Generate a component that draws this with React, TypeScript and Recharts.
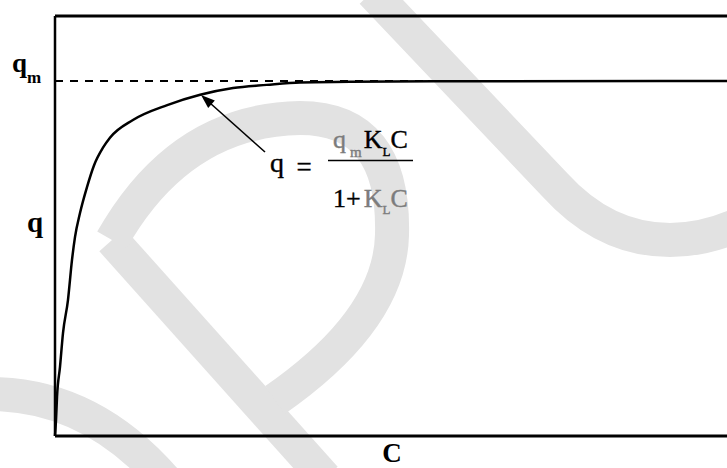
import { LineChart, Line, XAxis, YAxis, ReferenceLine } from 'recharts'

// concentration C (0..100, arbitrary units) and adsorbed amount q (as fraction of qm)
const concentration = [0, 0.15, 0.3, 0.74, 1.19, 1.93, 2.53, 2.98, 3.72, 4.76, 5.8, 7.14, 8.18, 11.6, 16.7, 21.6, 26.5, 31.5, 36.5, 43.9, 58.8, 100]
const uptake = [0, 0.045, 0.11, 0.194, 0.29, 0.383, 0.496, 0.561, 0.628, 0.701, 0.762, 0.812, 0.84, 0.89, 0.932, 0.961, 0.98, 0.989, 0.996, 0.998, 0.999, 1]

const qMax = 1
const qTop = 1.183

const data = concentration.map((c, i) => ({ c, q: uptake[i] }))

const serif = '"Liberation Serif", "Times New Roman", serif'
const wash = '#e2e2e2'
const faded = '#7c7c7c'

function Watermark() {
  return (
    <svg width={727} height={468} style={{ position: 'absolute', left: 0, top: 0 }}>
      <g fill="none" stroke={wash} strokeWidth={34}>
        <path d="M 112 240 L 325 478" />
        <path d="M 112 240 Q 180 120 300 118 Q 395 118 392 235 Q 390 320 275 400" />
        <path d="M -10 394 Q 90 394 165 480" />
        <path d="M 372 -8 L 555 185 Q 605 240 670 240 Q 705 240 740 224" />
      </g>
    </svg>
  )
}

function Annotations() {
  return (
    <svg width={727} height={468} style={{ position: 'absolute', left: 0, top: 0, pointerEvents: 'none' }}>
      <g fontFamily={serif} fill="#000" fontWeight="bold">
        <text x={12} y={72} fontSize={27}>
          q<tspan dy={11} fontSize={17}>m</tspan>
        </text>
        <text x={27} y={232} fontSize={29}>q</text>
        <text x={392} y={462} fontSize={27} textAnchor="middle">C</text>
      </g>

      <g fontFamily={serif} fill="#000" stroke="#000" strokeWidth={0.4}>
        <text x={270} y={172} fontSize={28}>q</text>
        <text x={304} y={176} fontSize={27} textAnchor="middle">=</text>

        <text x={333} y={148} fontSize={26}>
          <tspan fill={faded} stroke={faded}>q</tspan>
          <tspan dx={4} dy={9} fontSize={15} fill={faded} stroke={faded}>m</tspan>
          <tspan dx={2} dy={-9}>K</tspan>
          <tspan dy={8} fontSize={13}>L</tspan>
          <tspan dy={-8}>C</tspan>
        </text>

        <text x={333} y={207} fontSize={26}>
          1+
          <tspan dx={3} fill={faded} stroke={faded}>K</tspan>
          <tspan dy={7} fontSize={13} fill={faded} stroke={faded}>L</tspan>
          <tspan dy={-7} fill={faded} stroke={faded}>C</tspan>
        </text>
      </g>
      <line x1={328} x2={413} y1={160.5} y2={160.5} stroke="#000" strokeWidth={1.6} />
      <line x1={265} y1={152} x2={210} y2={103} stroke="#000" strokeWidth={1.6} />
      <polygon points="201,95 214.8,100.6 208.2,108" fill="#000" />
    </svg>
  )
}

export default function App() {
  return (
    <div style={{ position: 'absolute', left: 0, top: 0, width: 727, height: 468, background: '#fff' }}>
      <Watermark />
      <div style={{ position: 'absolute', left: 0, top: 0 }}>
        <LineChart width={727} height={468} data={data} margin={{ top: 16, right: 0, bottom: 32, left: 55 }}>
          <XAxis type="number" dataKey="c" domain={[0, 100]} hide />
          <YAxis type="number" domain={[0, qTop]} hide allowDataOverflow />
          <ReferenceLine y={qMax} stroke="#000" strokeWidth={2} strokeDasharray="8 7" />
          <ReferenceLine y={qTop} stroke="#000" strokeWidth={3} />
          <ReferenceLine y={0} stroke="#000" strokeWidth={3} />
          <ReferenceLine x={0} stroke="#000" strokeWidth={2.5} />
          <Line
            type="monotone"
            dataKey="q"
            stroke="#000"
            strokeWidth={2.5}
            dot={false}
            isAnimationActive={false}
          />
        </LineChart>
      </div>
      <Annotations />
    </div>
  )
}
